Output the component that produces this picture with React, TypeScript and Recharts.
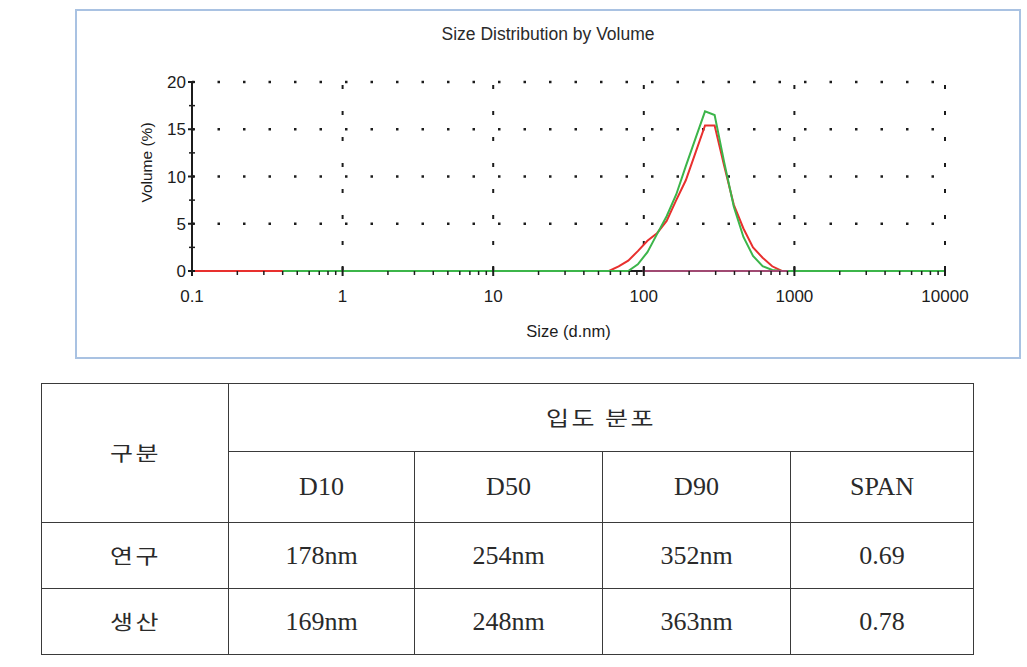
import { LineChart, Line, XAxis, YAxis, ReferenceLine, Label } from "recharts";

// particle size bins (d.nm)
const sizes = [
  0.1, 0.4, 50.75, 58.77, 68.06, 78.82, 91.28, 105.7, 122.4, 141.8, 164.2, 190.1,
  220.2, 255.0, 295.3, 342.0, 396.1, 458.7, 531.2, 615.1, 712.4, 825.0, 955.4, 10000,
];
// volume % – red trace
const redValues = [
  0, 0, 0, 0, 0.5, 1.1, 2.1, 3.2, 4.0, 5.3, 7.5, 9.6, 12.5, 15.4, 15.4, 11.1, 7.0, 4.5,
  2.5, 1.4, 0.5, 0, 0, 0,
];
// volume % – green trace (starts at 0.4 nm)
const greenValues = [
  null, 0, 0, 0, 0, 0, 0.7, 2.0, 3.9, 5.8, 8.1, 11.1, 14.0, 16.9, 16.5, 11.5, 6.8, 3.6,
  1.6, 0.5, 0.1, 0, 0, 0,
];
// short dark baseline trace under the peak
const baseSizes = [98, 905];
const baseValues = [0, 0];

const xTicks = [0.1, 1, 10, 100, 1000, 10000];
const xTickLabels = ["0.1", "1", "10", "100", "1000", "10000"];
const yTicks = [0, 5, 10, 15, 20];
const yMinorTicks = [2.5, 7.5, 12.5, 17.5];

const tableHead = ["D10", "D50", "D90", "SPAN"];
const tableRows = [
  { name: "연구", vals: ["178nm", "254nm", "352nm", "0.69"] },
  { name: "생산", vals: ["169nm", "248nm", "363nm", "0.78"] },
];

const redData = sizes.map((s, i) => ({ size: s, v: redValues[i] }));
const greenData = sizes.map((s, i) => ({ size: s, v: greenValues[i] })).filter((d) => d.v !== null);
const baseData = baseSizes.map((s, i) => ({ size: s, v: baseValues[i] }));

// minor ticks 2..9 in each decade
const minorX: number[] = [];
xTicks.slice(0, -1).forEach((d) => {
  for (let m = 2; m <= 9; m++) minorX.push(d * m);
});
const allX = [...xTicks, ...minorX].sort((a, b) => a - b);
const allY = [...yTicks, ...yMinorTicks].sort((a, b) => a - b);

const FONT = "'Liberation Sans', Arial, sans-serif";
const INK = "#1c1c1c";

const XTick = (props: any) => {
  const { x, y, payload } = props;
  const idx = xTicks.indexOf(payload.value);
  if (idx < 0) {
    return <line x1={x} x2={x} y1={y} y2={y + 4} stroke={INK} strokeWidth={1.5} />;
  }
  return (
    <g>
      <line x1={x} x2={x} y1={y - 5} y2={y + 5} stroke={INK} strokeWidth={2} />
      <text x={x} y={y + 31} textAnchor="middle" fontSize={17} fontFamily={FONT} fill={INK}>
        {xTickLabels[idx]}
      </text>
    </g>
  );
};

const YTick = (props: any) => {
  const { x, y, payload } = props;
  const major = yTicks.includes(payload.value);
  if (!major) {
    return <line x1={x - 3} x2={x + 3} y1={y} y2={y} stroke={INK} strokeWidth={1.5} />;
  }
  return (
    <g>
      <line x1={x - 4} x2={x + 3} y1={y} y2={y} stroke={INK} strokeWidth={2} />
      <text x={x - 6} y={y + 6} textAnchor="end" fontSize={17} fontFamily={FONT} fill={INK}>
        {payload.value}
      </text>
    </g>
  );
};

const cell: React.CSSProperties = {
  border: "1.5px solid #3a3a3a",
  textAlign: "center",
  verticalAlign: "middle",
  padding: 0,
};

const Hangul = ({ children }: { children: string }) => (
  <span
    style={{
      display: "inline-block",
      fontFamily: "'Noto Sans CJK KR', sans-serif",
      fontSize: 20,
      transform: "scaleX(1.25)",
      letterSpacing: 2,
    }}
  >
    {children}
  </span>
);

export default function App() {
  return (
    <div style={{ position: "absolute", left: 0, top: 0, width: 1027, height: 667, background: "#fff" }}>
      <div
        style={{
          position: "absolute",
          left: 75,
          top: 9,
          width: 942,
          height: 346,
          border: "2px solid #a9c2e2",
        }}
      >
        <div
          style={{
            position: "absolute",
            top: 14,
            width: "100%",
            textAlign: "center",
            fontFamily: FONT,
            fontSize: 17.5,
            lineHeight: "18px",
            color: "#2a2a2a",
          }}
        >
          Size Distribution by Volume
        </div>
        <LineChart width={942} height={346} margin={{ top: 71, right: 74, bottom: 0, left: 0 }}>
          <XAxis
            dataKey="size"
            type="number"
            scale="log"
            domain={[0.1, 10000]}
            ticks={allX}
            interval={0}
            tick={<XTick />}
            tickLine={false}
            tickSize={0}
            tickMargin={0}
            axisLine={{ stroke: INK, strokeWidth: 2 }}
            allowDataOverflow
            height={86}
          >
            <Label
              value="Size (d.nm)"
              position="insideBottom"
              offset={20}
              style={{ fontSize: 16.5, fontFamily: FONT, fill: INK }}
            />
          </XAxis>
          <YAxis
            type="number"
            domain={[0, 20]}
            ticks={allY}
            interval={0}
            tick={<YTick />}
            tickLine={false}
            tickSize={0}
            tickMargin={0}
            axisLine={{ stroke: INK, strokeWidth: 2 }}
            width={115}
          >
            <Label
              content={(p: any) => {
                const vb = p.viewBox;
                const cx = vb.x + 69;
                const cy = vb.y + vb.height / 2 - 14;
                return (
                  <text
                    x={cx}
                    y={cy}
                    transform={`rotate(-90 ${cx} ${cy})`}
                    textAnchor="middle"
                    dominantBaseline="central"
                    fontSize={15.5}
                    fontFamily={FONT}
                    fill={INK}
                  >
                    Volume (%)
                  </text>
                );
              }}
            />
          </YAxis>
          {yTicks.slice(1).map((t) => (
            <ReferenceLine key={"h" + t} y={t} stroke={INK} strokeWidth={2.5} strokeDasharray="2.5 23" />
          ))}
          {xTicks.slice(1).map((t) => (
            <ReferenceLine key={"v" + t} x={t} stroke={INK} strokeWidth={2} strokeDasharray="4 22" />
          ))}
          <Line
            data={redData}
            dataKey="v"
            type="linear"
            stroke="#e8302e"
            strokeWidth={2}
            dot={false}
            isAnimationActive={false}
            zIndex={700}
          />
          <Line
            data={greenData}
            dataKey="v"
            type="linear"
            stroke="#3cb54a"
            strokeWidth={2}
            dot={false}
            isAnimationActive={false}
            zIndex={710}
          />
          <Line
            data={baseData}
            dataKey="v"
            type="linear"
            stroke="#a04a72"
            strokeWidth={2}
            dot={false}
            isAnimationActive={false}
            zIndex={720}
          />
        </LineChart>
      </div>

      <table
        style={{
          position: "absolute",
          left: 41,
          top: 383,
          width: 932,
          height: 270,
          borderCollapse: "collapse",
          fontFamily: "'Liberation Serif', 'Times New Roman', serif",
          fontSize: 26,
          color: "#2a2a2a",
          tableLayout: "fixed",
        }}
      >
        <colgroup>
          <col style={{ width: 187 }} />
          <col style={{ width: 186 }} />
          <col style={{ width: 188 }} />
          <col style={{ width: 188 }} />
          <col style={{ width: 183 }} />
        </colgroup>
        <tbody>
          <tr style={{ height: 68 }}>
            <td style={cell} rowSpan={2}>
              <Hangul>구분</Hangul>
            </td>
            <td style={cell} colSpan={4}>
              <Hangul>입도 분포</Hangul>
            </td>
          </tr>
          <tr style={{ height: 71 }}>
            {tableHead.map((h) => (
              <td key={h} style={cell}>
                {h}
              </td>
            ))}
          </tr>
          {tableRows.map((r) => (
            <tr key={r.name} style={{ height: 66 }}>
              <td style={cell}>
                <Hangul>{r.name}</Hangul>
              </td>
              {r.vals.map((v, i) => (
                <td key={i} style={cell}>
                  {v}
                </td>
              ))}
            </tr>
          ))}
        </tbody>
      </table>
    </div>
  );
}
